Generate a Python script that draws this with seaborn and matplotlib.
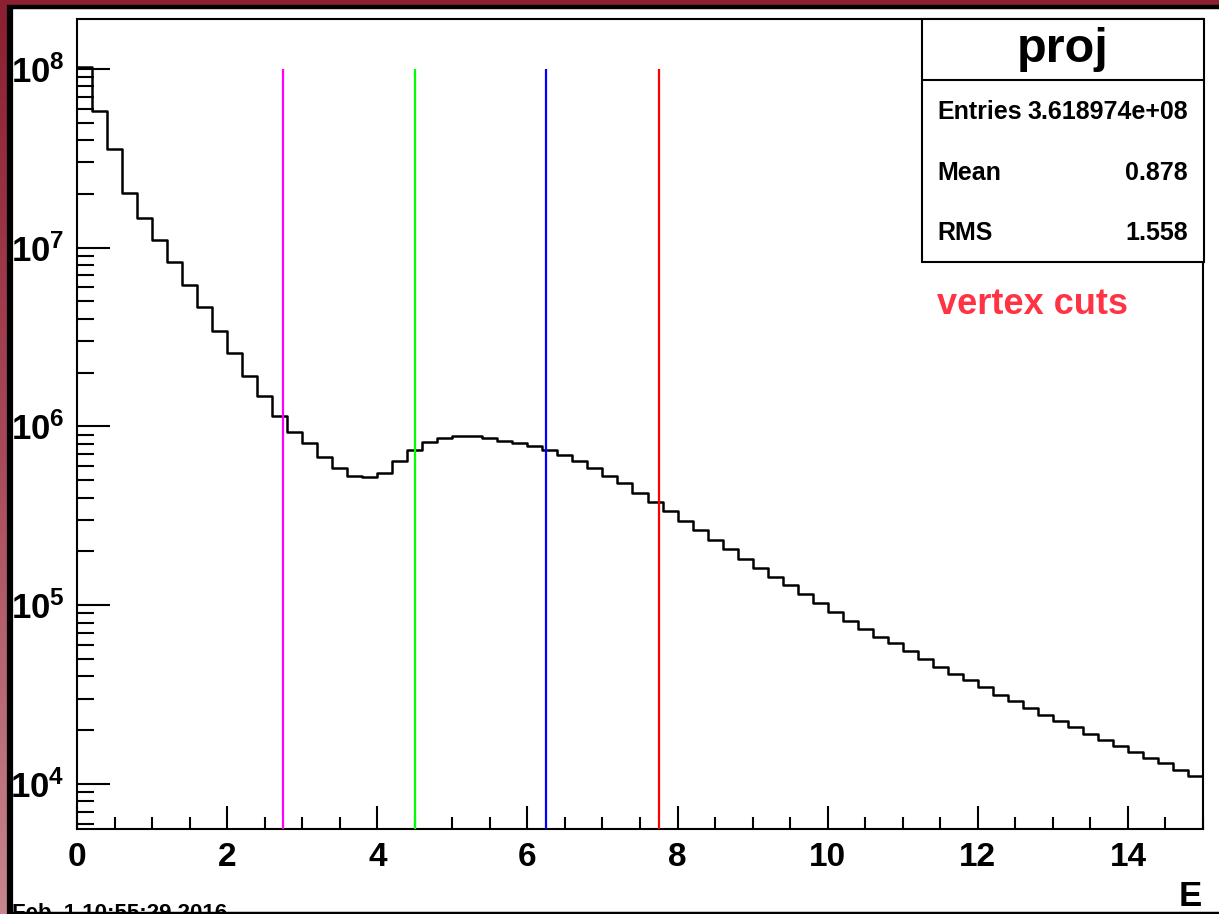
import numpy as np
import pandas as pd
import matplotlib
matplotlib.use("Agg")
import matplotlib.pyplot as plt
from matplotlib.patches import Rectangle
from matplotlib.ticker import FixedLocator, FuncFormatter, LogLocator, NullFormatter
from matplotlib.colors import LinearSegmentedColormap
import seaborn as sns

# ---------------- data ----------------
bin_edges = [round(0.2 * i, 3) for i in range(76)]
counts = [
    1.02e8, 5.82e7, 3.57e7, 2.01e7, 1.46e7, 1.10e7, 8.32e6, 6.19e6, 4.67e6, 3.42e6,
    2.57e6, 1.92e6, 1.47e6, 1.15e6, 9.35e5, 8.05e5, 6.78e5, 5.84e5, 5.31e5, 5.22e5,
    5.52e5, 6.41e5, 7.39e5, 8.22e5, 8.66e5, 8.85e5, 8.85e5, 8.60e5, 8.30e5, 8.05e5,
    7.78e5, 7.39e5, 6.93e5, 6.44e5, 5.84e5, 5.28e5, 4.81e5, 4.26e5, 3.78e5, 3.37e5,
    2.97e5, 2.64e5, 2.32e5, 2.06e5, 1.82e5, 1.62e5, 1.44e5, 1.29e5, 1.15e5, 1.03e5,
    9.2e4, 8.2e4, 7.4e4, 6.6e4, 6.12e4, 5.57e4, 5.0e4, 4.53e4, 4.14e4, 3.82e4,
    3.47e4, 3.15e4, 2.90e4, 2.65e4, 2.42e4, 2.25e4, 2.08e4, 1.90e4, 1.76e4, 1.64e4,
    1.51e4, 1.40e4, 1.31e4, 1.20e4, 1.11e4,
]
cut_positions = [2.75, 4.5, 6.25, 7.75]
cut_colors = ["#ff00ff", "#00ff00", "#0000ff", "#ff0000"]
x_ticks = [0, 2, 4, 6, 8, 10, 12, 14]
y_decades = [4, 5, 6, 7, 8]
stats_title = "proj"
stats_rows = [("Entries", "3.618974e+08"), ("Mean", "0.878"), ("RMS", "1.558")]
annotation = "vertex cuts"
date_text = "Feb  1 10:55:29 2016"
x_label = "E"

edges_arr = np.array(bin_edges)
centers = (edges_arr[:-1] + edges_arr[1:]) / 2
df = pd.DataFrame({"E": centers, "w": counts})

# ---------------- style ----------------
sns.set_style("ticks")
plt.rcParams["font.family"] = ["Liberation Sans", "DejaVu Sans"]
plt.rcParams["font.weight"] = "bold"
plt.rcParams["text.color"] = "black"
plt.rcParams["axes.labelcolor"] = "black"
plt.rcParams["xtick.color"] = "black"
plt.rcParams["ytick.color"] = "black"
plt.rcParams["axes.edgecolor"] = "black"
plt.rcParams["mathtext.fontset"] = "custom"
plt.rcParams["mathtext.rm"] = "Liberation Sans:bold"
plt.rcParams["mathtext.bf"] = "Liberation Sans:bold"
plt.rcParams["mathtext.it"] = "Liberation Sans:bold"
plt.rcParams["mathtext.default"] = "bf"

W, H = 1219, 914
fig = plt.figure(figsize=(W / 100, H / 100), dpi=100)

# background (window frame)
bg = fig.add_axes([0, 0, 1, 1], zorder=-5)
bg.set_xlim(0, W)
bg.set_ylim(H, 0)
bg.axis("off")
grad = np.linspace(0, 1, 256).reshape(-1, 1)
cmap = LinearSegmentedColormap.from_list("frame", ["#8c1f31", "#a84a5a", "#c7868e"])
bg.imshow(grad, cmap=cmap, aspect="auto", extent=[0, W, H, 0], zorder=0)
bg.add_patch(Rectangle((10, 7), W - 10, H - 9, facecolor="white", edgecolor="none", zorder=1))
bg.plot([10, 10], [5, H], color="black", lw=4.5, solid_capstyle="butt", zorder=2)
bg.plot([7, W], [7, 7], color="black", lw=3.2, solid_capstyle="butt", zorder=2)
bg.plot([7, W], [912.5, 912.5], color="black", lw=2.5, solid_capstyle="butt", zorder=2)

# main axes
x0, x1 = 77, 1203
y0, y1 = 19, 829
ax = fig.add_axes([x0 / W, 1 - y1 / H, (x1 - x0) / W, (y1 - y0) / H])
ax.set_facecolor("white")

sns.histplot(data=df, x="E", weights="w", bins=bin_edges, element="step", fill=False,
             color="black", linewidth=1.8, ax=ax)
ax.set_yscale("log")
ax.set_xlim(0, 15)
ax.set_ylim(5.6e3, 1.9e8)

ax.vlines(cut_positions, 5.6e3, 1e8, colors=cut_colors, linewidth=1.6, zorder=5)

for s in ax.spines.values():
    s.set_visible(True)
    s.set_linewidth(1.5)
    s.set_color("black")

ax.xaxis.set_major_locator(FixedLocator(x_ticks))
ax.xaxis.set_minor_locator(FixedLocator(np.arange(0, 15.01, 0.5)))
ax.yaxis.set_major_locator(FixedLocator([10.0 ** d for d in y_decades]))
ax.yaxis.set_minor_locator(LogLocator(base=10, subs=np.arange(2, 10), numticks=20))
ax.yaxis.set_minor_formatter(NullFormatter())
ax.yaxis.set_major_formatter(FuncFormatter(lambda v, p: r"$10^{%d}$" % round(np.log10(v))))
ax.xaxis.set_major_formatter(FuncFormatter(lambda v, p: "%d" % v))

ax.tick_params(axis="x", which="major", direction="in", length=16.5, width=1.5,
               labelsize=24, pad=9, top=False, colors="black")
ax.tick_params(axis="x", which="minor", direction="in", length=8.4, width=1.5, top=False,
               colors="black")
ax.tick_params(axis="y", which="major", direction="in", length=24, width=1.5,
               labelsize=25, pad=9, right=False, colors="black")
ax.tick_params(axis="y", which="minor", direction="in", length=12, width=1.5, right=False,
               colors="black")
for lab in ax.get_xticklabels() + ax.get_yticklabels():
    lab.set_fontweight("bold")
ax.set_xlabel("")
ax.set_ylabel("")

# x label
fig.text(1202 / W, 1 - 896 / H, x_label, ha="right", va="center", fontsize=25,
         fontweight="bold", color="black")

# date text (clipped at bottom, as in the reference)
fig.text(12 / W, 1 - 903 / H, date_text, ha="left", va="top", fontsize=16,
         fontweight="bold", color="black", zorder=1)

# stats box
bx0, bx1 = 922, 1204
by_top, by_div, by_bot = 19, 80, 262
box_ax = fig.add_axes([0, 0, 1, 1], zorder=10)
box_ax.set_xlim(0, W)
box_ax.set_ylim(H, 0)
box_ax.axis("off")
box_ax.patch.set_alpha(0)
box_ax.add_patch(Rectangle((bx0, by_top), bx1 - bx0, by_bot - by_top, facecolor="white",
                           edgecolor="black", lw=1.5))
box_ax.plot([bx0, bx1], [by_div, by_div], color="black", lw=1.5)
box_ax.text((bx0 + bx1) / 2, 49, stats_title, ha="center", va="center", fontsize=35,
            fontweight="bold", color="black")
row_y = [112, 173, 233]
for (k, v), yy in zip(stats_rows, row_y):
    box_ax.text(937, yy, k, ha="left", va="center", fontsize=18, fontweight="bold",
                color="black")
    box_ax.text(1188, yy, v, ha="right", va="center", fontsize=18, fontweight="bold",
                color="black")

box_ax.text(937, 304, annotation, ha="left", va="center", fontsize=26,
            fontweight="bold", color="#ff3344")

fig.savefig("out.png", dpi=100)
